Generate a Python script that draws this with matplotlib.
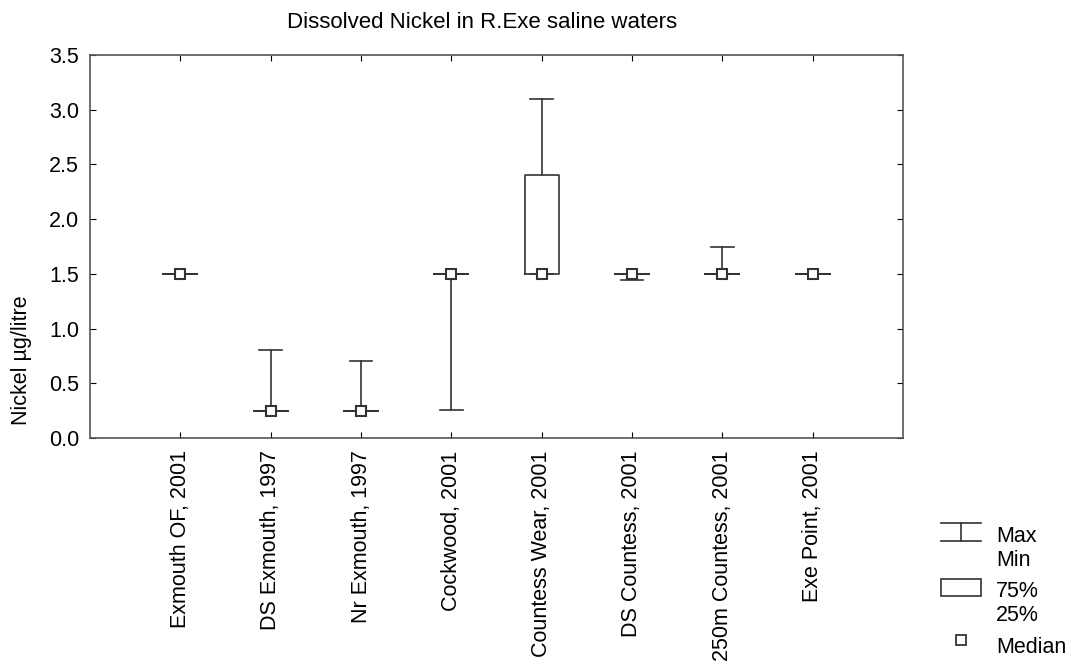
import matplotlib.pyplot as plt
from matplotlib import patches

plt.rcParams['font.family'] = ['Liberation Sans', 'DejaVu Sans']

# sites and summary statistics (Nickel, ug/litre)
sites = ["Exmouth OF, 2001", "DS Exmouth, 1997", "Nr Exmouth, 1997", "Cockwood, 2001",
         "Countess Wear, 2001", "DS Countess, 2001", "250m Countess, 2001", "Exe Point, 2001"]
medians = [1.5, 0.25, 0.25, 1.5, 1.5, 1.5, 1.5, 1.5]
q25 = [1.5, 0.25, 0.25, 1.5, 1.5, 1.5, 1.5, 1.5]
q75 = [1.5, 0.25, 0.25, 1.5, 2.4, 1.5, 1.5, 1.5]
mins = [1.5, 0.25, 0.25, 0.26, 1.5, 1.44, 1.5, 1.5]
maxs = [1.5, 0.8, 0.7, 1.5, 3.1, 1.5, 1.75, 1.5]

W, H = 1071, 666
fig = plt.figure(figsize=(W / 100, H / 100), dpi=100)
ax = fig.add_axes([90 / W, 1 - 438 / H, 813 / W, 383 / H])

lc = '#333333'
pos = list(range(1, len(sites) + 1))
stats = []
for i in range(len(sites)):
    stats.append(dict(med=medians[i], q1=q25[i], q3=q75[i], whislo=mins[i], whishi=maxs[i], fliers=[]))

ax.bxp(stats, positions=pos, widths=0.38, capwidths=0.25, showfliers=False,
       boxprops=dict(color=lc, linewidth=1.2),
       whiskerprops=dict(color=lc, linewidth=1.2),
       capprops=dict(color=lc, linewidth=1.2),
       medianprops=dict(linewidth=0))
ax.plot(pos, medians, 's', ms=7.5, mfc='white', mec=lc, mew=1.5, ls='none', zorder=5)

fs = 15.5
ax.set_xlim(0, 9)
ax.set_ylim(0, 3.5)
ax.set_yticks([0, 0.5, 1.0, 1.5, 2.0, 2.5, 3.0, 3.5])
ax.set_yticklabels(['%.1f' % v for v in ax.get_yticks()], fontsize=fs)
ax.set_xticks(pos)
ax.set_xticklabels(sites, rotation=90, fontsize=fs, va='top')
ax.tick_params(direction='in', length=4, top=True, right=True, color='black', pad=9)
ax.tick_params(axis='y', pad=8)
for s in ax.spines.values():
    s.set_color('#555555')
    s.set_linewidth(1.2)

ax.set_ylabel('Nickel µg/litre', fontsize=fs)
ax.yaxis.set_label_coords(-0.0713, 0.204)
fig.text(482 / W, 1 - 28 / H, 'Dissolved Nickel in R.Exe saline waters', ha='center', va='baseline', fontsize=16)

# legend drawn in pixel coordinates
lg = fig.add_axes([0, 0, 1, 1])
lg.set_xlim(0, W)
lg.set_ylim(H, 0)
lg.axis('off')
lg.plot([941, 981], [523, 523], color=lc, lw=1.2)
lg.plot([941, 981], [541, 541], color=lc, lw=1.2)
lg.plot([961, 961], [523, 541], color=lc, lw=1.2)
lg.add_patch(patches.Rectangle((941, 579), 40, 17, fill=False, edgecolor=lc, lw=1.2))
lg.plot([961], [640], 's', ms=7, mfc='white', mec=lc, mew=1.3)
for txt, yb in [('Max', 542), ('Min', 566), ('75%', 597), ('25%', 621), ('Median', 653)]:
    lg.text(996, yb, txt, fontsize=fs, va='baseline')

fig.savefig('out.png', dpi=100)
